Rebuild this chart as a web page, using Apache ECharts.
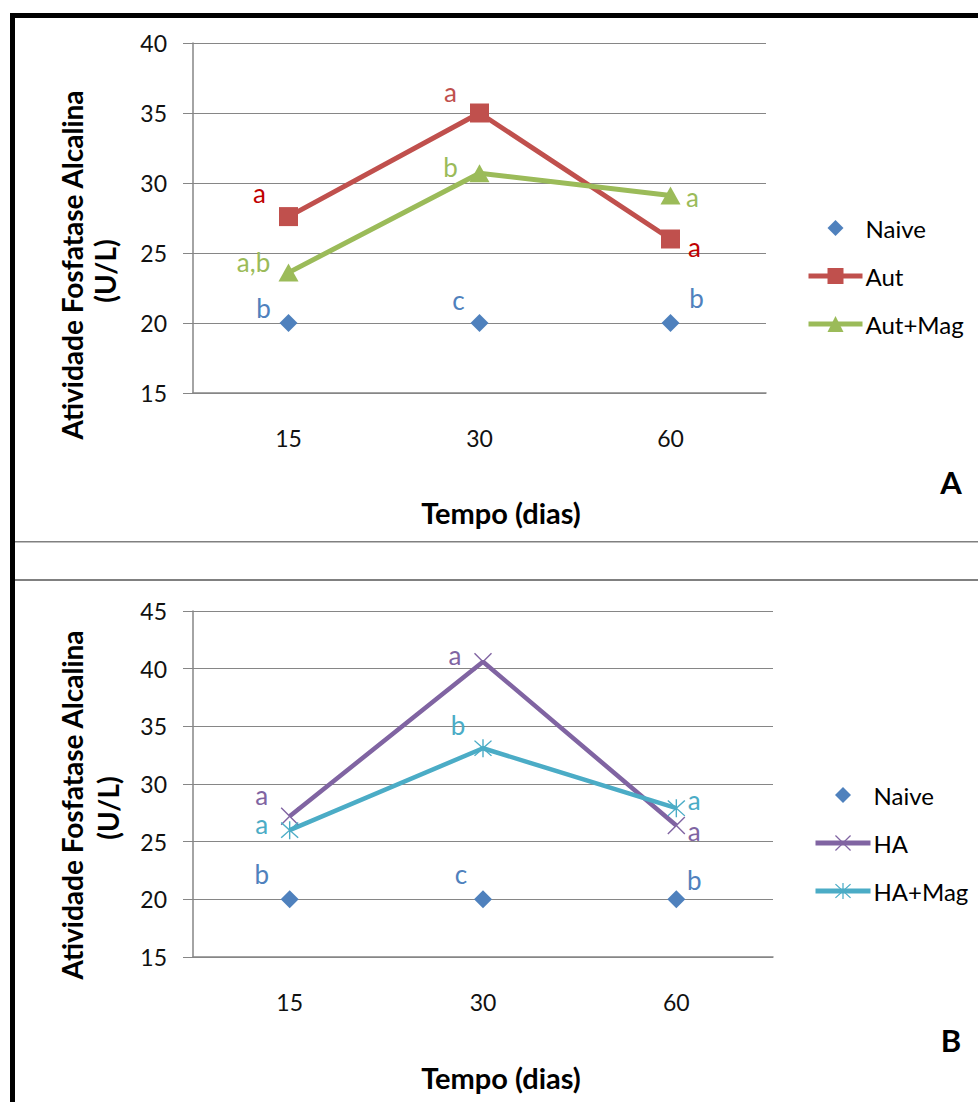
<!DOCTYPE html>
<html>
<head>
<meta charset="utf-8">
<script src="https://cdn.jsdelivr.net/npm/echarts@6/dist/echarts.min.js"></script>
<style>
  html, body { margin: 0; padding: 0; background: #fff; }
  #chart { width: 978px; height: 1102px; }
</style>
</head>
<body>
<div id="chart"></div>
<script>
// ---- data ----
const categories = ['15', '30', '60'];

// Panel A
const naiveA = [20, 20, 20];
const autA = [27.6, 35.0, 26.0];
const autMagA = [23.6, 30.7, 29.1];
const lettersNaiveA = ['b', 'c', 'b'];
const lettersAutA = ['a', 'a', 'a'];
const lettersAutMagA = ['a,b', 'b', 'a'];

// Panel B
const naiveB = [20, 20, 20];
const haB = [27.2, 40.6, 26.4];
const haMagB = [26.0, 33.1, 27.9];
const lettersNaiveB = ['b', 'c', 'b'];
const lettersHAB = ['a', 'a', 'a'];
const lettersHAMagB = ['a', 'b', 'a'];

const yAxisTitle = ['Atividade Fosfatase Alcalina', '(U/L)'];
const xAxisTitle = 'Tempo (dias)';

// ---- styles ----
const FONT = 'Lato, "Open Sans", sans-serif';
const C = {
  naive: '#4F81BD', aut: '#C0504D', autMag: '#9BBB59',
  ha: '#8064A2', haMag: '#4BACC6', darkRed: '#C00000', grid: '#868686'
};
const offNaiveA = [[-25, -15], [-21, -23], [26, -25]];
const offAutA = [[-29, -24], [-29, -21], [24, 8]];
const offAutMagA = [[-35, -11], [-29, -6], [22, 1]];
const colAutA = [C.darkRed, C.aut, C.darkRed];
const offNaiveB = [[-28, -25], [-22, -25], [18, -19]];
const offHAB = [[-28, -21], [-28, -7], [18, 5]];
const offHAMagB = [[-28, -6], [-25, -23], [18, -8]];

const xSym = 'path://M2,1 L10,9 L18,1 L19,2 L11,10 L19,18 L18,19 L10,11 L2,19 L1,18 L9,10 L1,2 Z';
const starSym = 'path://M2,1 L10,9 L18,1 L19,2 L11,10 L19,18 L18,19 L10,11 L2,19 L1,18 L9,10 L1,2 Z M9.3,0 L10.7,0 L10.7,20 L9.3,20 Z';

function items(values, letters, offsets, colors) {
  return values.map((v, i) => ({
    value: v,
    label: {
      show: true,
      formatter: letters[i],
      position: 'inside',
      offset: offsets[i],
      color: Array.isArray(colors) ? colors[i] : colors,
      fontSize: 26,
      lineHeight: 22,
      fontFamily: FONT
    }
  }));
}

function yAxis(gridIndex, max) {
  return {
    type: 'value', gridIndex, min: 15, max, interval: 5,
    axisLine: { show: true, lineStyle: { color: C.grid, width: 1.5 } },
    axisTick: { show: true, length: 10, lineStyle: { color: C.grid } },
    splitLine: { show: true, lineStyle: { color: C.grid, width: 1.2 } },
    axisLabel: { color: '#111', fontSize: 23, fontFamily: FONT, margin: 26 }
  };
}
function xAxis(gridIndex) {
  return {
    type: 'category', gridIndex, data: categories, boundaryGap: true,
    axisLine: { show: true, lineStyle: { color: C.grid, width: 1.5 } },
    axisTick: { show: false },
    axisLabel: { color: '#111', fontSize: 23, fontFamily: FONT, margin: 33 }
  };
}

function lineSeries(name, idx, data, color, symbol, size, width) {
  return {
    name, type: 'line', xAxisIndex: idx, yAxisIndex: idx, data,
    symbol, symbolSize: size, showAllSymbol: true,
    lineStyle: { color, width },
    itemStyle: { color },
    emphasis: { disabled: true },
    animation: false, z: 3
  };
}
function naiveSeries(idx, data) {
  return {
    name: 'Naive', type: 'line', xAxisIndex: idx, yAxisIndex: idx, data,
    symbol: 'diamond', symbolSize: 18,
    lineStyle: { width: 0, opacity: 0, color: C.naive },
    itemStyle: { color: C.naive },
    emphasis: { disabled: true }, animation: false, z: 4
  };
}

function titleTexts(cx1, cx2, cy1, cy2, tx, ty, letter, lx, ly) {
  return [
    { type: 'text', x: cx1, y: cy1, rotation: Math.PI / 2,
      style: { text: yAxisTitle[0], font: 'bold 28px ' + FONT, fill: '#000', align: 'center', verticalAlign: 'middle' } },
    { type: 'text', x: cx2, y: cy2, rotation: Math.PI / 2,
      style: { text: yAxisTitle[1], font: 'bold 28px ' + FONT, fill: '#000', align: 'center', verticalAlign: 'middle' } },
    { type: 'text', x: tx, y: ty,
      style: { text: xAxisTitle, font: 'bold 29px ' + FONT, fill: '#000', align: 'center', verticalAlign: 'middle' } },
    { type: 'text', x: lx, y: ly,
      style: { text: letter, font: 'bold 31px ' + FONT, fill: '#000', align: 'center', verticalAlign: 'middle' } }
  ];
}

function legend(names, left, top, width) {
  return {
    data: names, orient: 'vertical', left, top, padding: 0,
    itemWidth: width, itemHeight: 20, itemGap: 24, selectedMode: false,
    lineStyle: { width: 5 },
    textStyle: { fontSize: 24, fontFamily: FONT, color: '#000', padding: [0, 0, 0, -2] }
  };
}

const chart = echarts.init(document.getElementById('chart'), null, { renderer: 'svg' });
chart.setOption({
  backgroundColor: '#fff',
  animation: false,
  textStyle: { fontFamily: FONT },
  grid: [
    { left: 193, top: 43, width: 573, height: 350 },
    { left: 193, top: 611, width: 580, height: 346 }
  ],
  xAxis: [xAxis(0), xAxis(1)],
  yAxis: [yAxis(0, 40), yAxis(1, 45)],
  legend: [
    legend(['Naive', 'Aut', 'Aut+Mag'], 806, 216, 54),
    legend(['Naive', 'HA', 'HA+Mag'], 813, 783, 55)
  ],
  series: [
    naiveSeries(0, items(naiveA, lettersNaiveA, offNaiveA, C.naive)),
    lineSeries('Aut', 0, items(autA, lettersAutA, offAutA, colAutA), C.aut, 'rect', 19, 5),
    lineSeries('Aut+Mag', 0, items(autMagA, lettersAutMagA, offAutMagA, C.autMag), C.autMag, 'triangle', [20, 18], 5),
    naiveSeries(1, items(naiveB, lettersNaiveB, offNaiveB, C.naive)),
    lineSeries('HA', 1, items(haB, lettersHAB, offHAB, C.ha), C.ha, xSym, 18, 4.5),
    lineSeries('HA+Mag', 1, items(haMagB, lettersHAMagB, offHAMagB, C.haMag), C.haMag, starSym, 18, 4.5)
  ],
  graphic: [
    { type: 'rect', shape: { x: 10, y: 13, width: 968, height: 5 }, style: { fill: '#000' } },
    { type: 'rect', shape: { x: 10, y: 13, width: 5, height: 1089 }, style: { fill: '#000' } },
    { type: 'rect', shape: { x: 15, y: 541, width: 963, height: 1.5 }, style: { fill: '#808080' } },
    { type: 'rect', shape: { x: 15, y: 579, width: 963, height: 2 }, style: { fill: '#808080' } },
    ...titleTexts(72, 105, 265, 271, 501, 512, 'A', 951, 482),
    ...titleTexts(72, 108, 805, 808, 501, 1077, 'B', 951, 1040)
  ]
});
</script>
</body>
</html>
